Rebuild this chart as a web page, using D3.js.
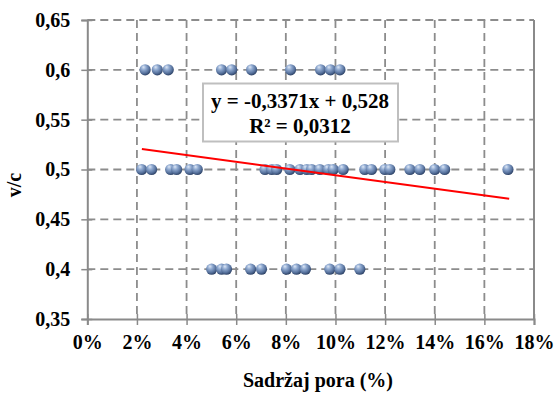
<!DOCTYPE html>
<html><head><meta charset="utf-8">
<script src="https://cdn.jsdelivr.net/npm/d3@7"></script>
<style>body{margin:0;background:#fff}svg{display:block}
svg text{font-family:"Times New Roman","Liberation Serif",Tinos,serif !important;font-weight:bold}</style>
</head><body>
<svg id="c" width="558" height="394"></svg>
<script>
// Data (pore content as fraction, v/c ratio)
const pora06 = [0.0233,0.0282,0.0326,0.0541,0.0582,0.0662,0.0819,0.0940,0.0980,0.1018];
const pora05 = [0.0219,0.0259,0.0336,0.0360,0.0414,0.0443,0.0716,0.0743,0.0763,0.0816,0.0857,0.0884,0.0904,0.0937,0.0971,0.0991,0.1031,0.1118,0.1145,0.1199,0.1219,0.1300,0.1340,0.1400,0.1440,0.1695];
const pora04 = [0.0501,0.0541,0.0561,0.0658,0.0702,0.0803,0.0843,0.0879,0.0977,0.1018,0.1098];
const vcLevels = [0.6, 0.5, 0.4];
const xTicks = [0,0.02,0.04,0.06,0.08,0.10,0.12,0.14,0.16,0.18];
const yTicks = [0.35,0.40,0.45,0.50,0.55,0.60,0.65];
const trendSlope = -0.3371, trendIntercept = 0.528;
const trendRange = [0.022, 0.17];
const eqLines = ["y = -0,3371x + 0,528", "R² = 0,0312"];
const xTitle = "Sadržaj pora (%)", yTitle = "v/c";

const points = [];
[pora06, pora05, pora04].forEach((arr,i)=>arr.forEach(p=>points.push({x:p,y:vcLevels[i]})));

const svg = d3.select("#c");
const L=87.3, R=534, T=20, B=319;
const x = d3.scaleLinear().domain([0,0.18]).range([L,R]);
const y = d3.scaleLinear().domain([0.35,0.65]).range([B,T]);
const gridC = "#8c8c8c", axisC = "#8a8a8a";

const defs = svg.append("defs");
const g = defs.append("radialGradient").attr("id","ball").attr("cx","40%").attr("cy","35%").attr("r","65%").attr("fx","35%").attr("fy","25%");
g.append("stop").attr("offset","0%").attr("stop-color","#dde7f5");
g.append("stop").attr("offset","35%").attr("stop-color","#8fa9d0");
g.append("stop").attr("offset","75%").attr("stop-color","#56719c");
g.append("stop").attr("offset","100%").attr("stop-color","#2f4468");

// grid
svg.append("g").selectAll("line.v").data(xTicks.slice(1,-1)).join("line")
  .attr("x1",d=>x(d)).attr("x2",d=>x(d)).attr("y1",T).attr("y2",B)
  .attr("stroke",gridC).attr("stroke-width",1.8).attr("stroke-dasharray","8,5");
svg.append("g").selectAll("line.h").data(yTicks.slice(1)).join("line")
  .attr("x1",L).attr("x2",R).attr("y1",d=>y(d)).attr("y2",d=>y(d))
  .attr("stroke",gridC).attr("stroke-width",1.8).attr("stroke-dasharray","8,5");
// right border
svg.append("line").attr("x1",R).attr("x2",R).attr("y1",T).attr("y2",B).attr("stroke",axisC).attr("stroke-width",2);

// axes
const ya = svg.append("g").attr("transform",`translate(${L},0)`)
  .call(d3.axisLeft(y).tickValues(yTicks).tickSize(6).tickPadding(11).tickFormat(d=>d3.format(".2~f")(d).replace(".",",")));
const xa = svg.append("g").attr("transform",`translate(0,${B})`)
  .call(d3.axisBottom(x).tickValues(xTicks).tickSize(6).tickPadding(10).tickFormat(d=>Math.round(d*100)+"%"));
[ya,xa].forEach(a=>{
  a.attr("font-family",null).attr("font-size",null);
  a.select(".domain").attr("stroke",axisC).attr("stroke-width",2);
  a.selectAll(".tick line").attr("stroke",axisC).attr("stroke-width",1.5);
  a.selectAll("text").style("font-size","20px").attr("fill","#000");
});
// cross ticks
ya.selectAll(".tick").append("line").attr("x1",0).attr("x2",5).attr("stroke",axisC).attr("stroke-width",1.5);
xa.selectAll(".tick").append("line").attr("y1",0).attr("y2",-5).attr("stroke",axisC).attr("stroke-width",1.5);

// points
svg.append("g").selectAll("circle").data(points).join("circle")
  .attr("cx",d=>x(d.x)).attr("cy",d=>y(d.y)).attr("r",5.6).attr("fill","url(#ball)");

// trend line
svg.append("line").attr("x1",x(trendRange[0])).attr("y1",y(trendSlope*trendRange[0]+trendIntercept))
  .attr("x2",x(trendRange[1])).attr("y2",y(trendSlope*trendRange[1]+trendIntercept))
  .attr("stroke","#ff0000").attr("stroke-width",2);

// equation box
svg.append("rect").attr("x",203).attr("y",83.5).attr("width",195).attr("height",58)
  .attr("fill","#fff").attr("stroke","#bfbfbf").attr("stroke-width",2);
svg.append("g").selectAll("text").data(eqLines).join("text")
  .attr("x",300).attr("y",(d,i)=>108+i*25).attr("text-anchor","middle")
  .style("font-size","21px").text(d=>d);

// titles
svg.append("text").attr("x",318).attr("y",387).attr("text-anchor","middle")
  .style("font-size","20px").text(xTitle);
svg.append("text").attr("transform","translate(21,185) rotate(-90)").attr("text-anchor","middle")
  .style("font-size","20px").text(yTitle);
</script>
</body></html>
